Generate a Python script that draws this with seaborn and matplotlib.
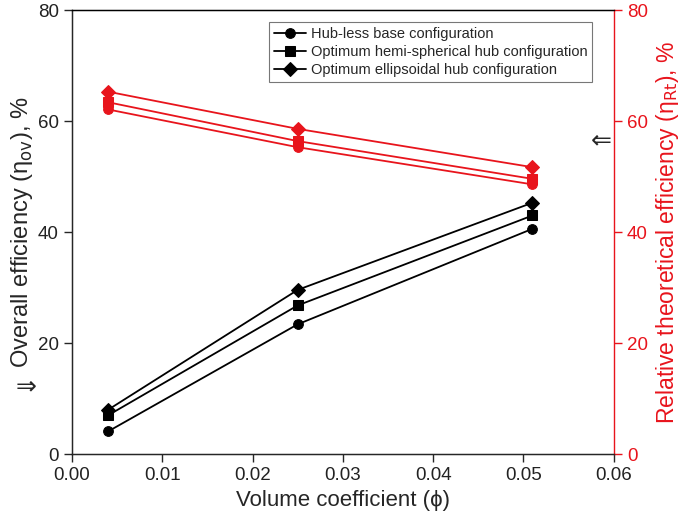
import pandas as pd
import seaborn as sns
import numpy as np
import matplotlib.pyplot as plt

# Data
phi = [0.004, 0.025, 0.051]
configs = ['Hub-less base configuration',
           'Optimum hemi-spherical hub configuration',
           'Optimum ellipsoidal hub configuration']
overall_eff = {
    configs[0]: [4.1, 23.4, 40.6],
    configs[1]: [7.0, 26.8, 43.0],
    configs[2]: [8.0, 29.6, 45.3],
}
relative_eff = {
    configs[0]: [62.1, 55.3, 48.6],
    configs[1]: [63.4, 56.4, 49.6],
    configs[2]: [65.3, 58.6, 51.7],
}

rows = []
for c in configs:
    for x, a, b in zip(phi, overall_eff[c], relative_eff[c]):
        rows.append({'phi': x, 'config': c, 'overall': a, 'relative': b})
df = pd.DataFrame(rows)

sns.set_style('ticks')
plt.rcParams['font.family'] = ['Liberation Sans', 'DejaVu Sans']

fig = plt.figure(figsize=(6.85, 5.3), dpi=100)
ax = fig.add_axes([0.105, 0.143, 0.791, 0.838])
markers = ['o', 's', 'D']

sns.lineplot(data=df, x='phi', y='overall', style='config', markers=markers,
             dashes=False, color='black', markersize=7, linewidth=1.3,
             markeredgecolor='black', ax=ax)

ax2 = ax.twinx()
red = '#e8141c'
sns.lineplot(data=df, x='phi', y='relative', style='config', markers=markers,
             dashes=False, color=red, markersize=7, linewidth=1.3,
             markeredgecolor=red, ax=ax2, legend=False)

ax.set_xlim(0, 0.06)
ax.set_ylim(0, 80)
ax2.set_ylim(0, 80)
ax.set_xticks(np.arange(0, 0.061, 0.01))
ax.set_xticklabels([f'{v:.2f}' for v in np.arange(0, 0.061, 0.01)])
ax.set_yticks([0, 20, 40, 60, 80])
ax2.set_yticks([0, 20, 40, 60, 80])

ax.tick_params(axis='both', labelsize=13.5, direction='out', length=6, width=1,
               labelcolor='#222222')
ax2.tick_params(axis='y', labelsize=13.5, colors=red, direction='out', length=6, width=1)
for s in ['left', 'bottom', 'top']:
    ax.spines[s].set_color('black')
ax2.spines['top'].set_color('black')
ax2.spines['right'].set_color(red)
ax.spines['right'].set_visible(False)
for sp in ax2.spines.values():
    sp.set_linewidth(1)

ax.set_xlabel('Volume coefficient (\u03d5)', fontsize=16)
ax.set_ylabel('Overall efficiency (\u03b7$_{\\mathrm{ov}}$), %', fontsize=17, labelpad=2)
ax2.set_ylabel('Relative theoretical efficiency (\u03b7$_{\\mathrm{Rt}}$), %', fontsize=16.5,
               color=red, labelpad=4)

leg = ax.legend(loc='upper right', bbox_to_anchor=(0.974, 0.989), fontsize=10.5,
                frameon=True, fancybox=False, edgecolor='#555555',
                handlelength=2.2, handletextpad=0.3, borderpad=0.35, labelspacing=0.25)
leg.get_frame().set_linewidth(0.8)
leg.set_title(None)

# annotation arrows pointing to axes
ax.text(-0.0062, 12.3, '\u21d2', fontsize=18, va='center', ha='left', clip_on=False)
ax.text(0.0598, 56.6, '\u21d0', fontsize=18, va='center', ha='right', clip_on=False)

fig.savefig('out.png', dpi=100)
